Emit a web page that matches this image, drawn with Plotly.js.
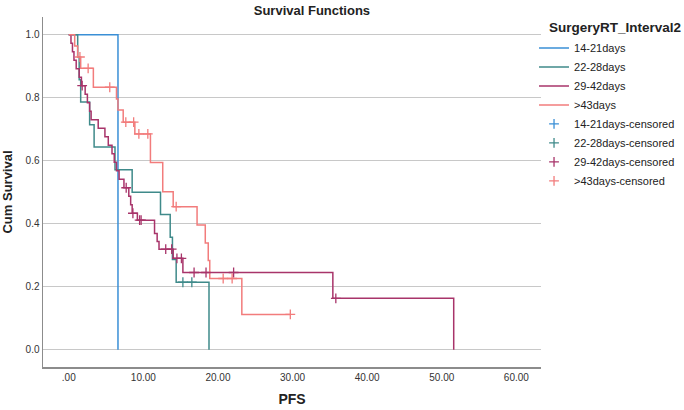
<!DOCTYPE html>
<html>
<head>
<meta charset="utf-8">
<script src="https://cdn.plot.ly/plotly-3.0.1.min.js"></script>
<style>
  html, body { margin: 0; padding: 0; background: #fff; }
  #km { width: 684px; height: 410px; }
</style>
</head>
<body>
<div id="km"></div>
<script>
// group labels
const groups = ['14-21days', '22-28days', '29-42days', '>43days'];
const colors = ['#3a8fd6', '#3f8a8a', '#a8346a', '#f27c7c'];
const legendTitle = 'SurgeryRT_Interval2';

// step points (time of drop, survival after drop)
const t14 = [0, 6.6];
const s14 = [1, 0];
const c14 = [];

const t22 = [0, 1.2, 1.4, 1.6, 2.8, 3.4, 6.2, 8.5, 12.3, 13.6, 13.9, 14.4, 18.8];
const s22 = [1, 0.929, 0.857, 0.786, 0.714, 0.643, 0.571, 0.5, 0.429, 0.357, 0.286, 0.214, 0];
const c22 = [15.3, 16.5];

const t29 = [0, 0.3, 0.5, 0.7, 1.0, 1.4, 1.7, 2.2, 2.5, 2.8, 3.0, 3.95, 4.85, 5.3, 5.8, 6.1, 6.4, 6.75,
             7.4, 8.05, 8.3, 8.5, 9.2, 11.5, 11.85, 12.1, 14.0, 15.3, 35.4, 51.6];
const s29 = [1, 0.973, 0.946, 0.919, 0.892, 0.865, 0.838, 0.811, 0.784, 0.757, 0.73, 0.703, 0.676, 0.649,
             0.622, 0.595, 0.568, 0.541, 0.514, 0.487, 0.46, 0.433, 0.411, 0.369, 0.343, 0.319, 0.29,
             0.245, 0.163, 0];
const c29 = [1.8, 7.7, 8.6, 9.5, 9.7, 13.0, 13.8, 14.5, 15.1, 16.8, 18.4, 22.1, 35.8];

const t43 = [0, 0.8, 1.2, 1.6, 3.3, 6.4, 6.6, 7.3, 8.86, 10.95, 12.6, 14.0, 17.2, 18.3, 18.7, 18.9, 23.2, 29.7];
const s43 = [1, 0.964, 0.929, 0.893, 0.833, 0.796, 0.761, 0.722, 0.685, 0.594, 0.501, 0.454, 0.396,
             0.339, 0.283, 0.226, 0.112, 0.112];
const c43 = [1.5, 2.6, 5.5, 7.65, 8.7, 9.4, 10.6, 14.4, 20.7, 21.9, 29.7];

const xTicks = [0, 10, 20, 30, 40, 50, 60];
const xTickText = ['.00', '10.00', '20.00', '30.00', '40.00', '50.00', '60.00'];
const yTicks = [0, 0.2, 0.4, 0.6, 0.8, 1.0];
const yTickText = ['0.0', '0.2', '0.4', '0.6', '0.8', '1.0'];

const FONT = 'Liberation Sans, Arial, sans-serif';

// survival value of a step curve at time t
function survAt(ts, ss, t) {
    let v = ss[0];
    for (let i = 0; i < ts.length; i++) if (ts[i] <= t) v = ss[i];
    return v;
}

const curves = [[t14, s14, c14], [t22, s22, c22], [t29, s29, c29], [t43, s43, c43]];

const stepTraces = curves.map((c, i) => ({
    type: 'scatter', mode: 'lines', name: groups[i], x: c[0], y: c[1],
    line: { shape: 'hv', color: colors[i], width: 1.5 }, hoverinfo: 'skip'
}));

const censTraces = curves.map((c, i) => ({
    type: 'scatter', mode: 'markers', name: groups[i] + '-censored',
    x: c[2].length ? c[2] : [null], y: c[2].length ? c[2].map(t => survAt(c[0], c[1], t)) : [null],
    marker: { symbol: 'cross-thin', size: 7, line: { color: colors[i], width: 1.3 }, color: colors[i] },
    hoverinfo: 'skip'
}));

const layout = {
    width: 684, height: 410,
    margin: { l: 43, r: 143, t: 17, b: 43, autoexpand: false },
    paper_bgcolor: '#fff', plot_bgcolor: '#fff',
    font: { family: FONT, color: '#222', size: 11 },
    title: { text: '<b>Survival Functions</b>', font: { size: 13, family: FONT }, x: 0.54, xref: 'paper', xanchor: 'center', y: 0.985, yanchor: 'top' },
    xaxis: {
        range: [-3.45, 63.3], tickvals: xTicks, ticktext: xTickText, showgrid: false, zeroline: false,
        showline: true, linecolor: '#8c8c8c', linewidth: 1.5, ticks: '', tickfont: { size: 10, color: '#333' },
        title: { text: '<b>PFS</b>', font: { size: 14 }, standoff: 12 }
    },
    yaxis: {
        range: [-0.055, 1.056], tickvals: yTicks, ticktext: yTickText, showgrid: true, gridcolor: '#c8c8c8', gridwidth: 1,
        zeroline: false, showline: true, linecolor: '#8c8c8c', linewidth: 1.5, ticks: '', tickfont: { size: 10, color: '#333' },
        title: { text: '<b>Cum Survival</b>', font: { size: 13 }, standoff: 10 }
    },
    showlegend: true,
    legend: {
        x: 0.986, y: 0.953, xanchor: 'left', yanchor: 'top', bgcolor: 'rgba(0,0,0,0)',
        font: { size: 11, color: '#222' }, itemwidth: 30
    },
    annotations: [{
        text: '<b>' + legendTitle + '</b>', xref: 'paper', yref: 'paper', x: 1.012, y: 0.971,
        xanchor: 'left', yanchor: 'middle', showarrow: false, font: { size: 13.5, color: '#222' }
    }]
};

Plotly.newPlot('km', [...stepTraces, ...censTraces], layout, { displayModeBar: false, staticPlot: true });
</script>
</body>
</html>
